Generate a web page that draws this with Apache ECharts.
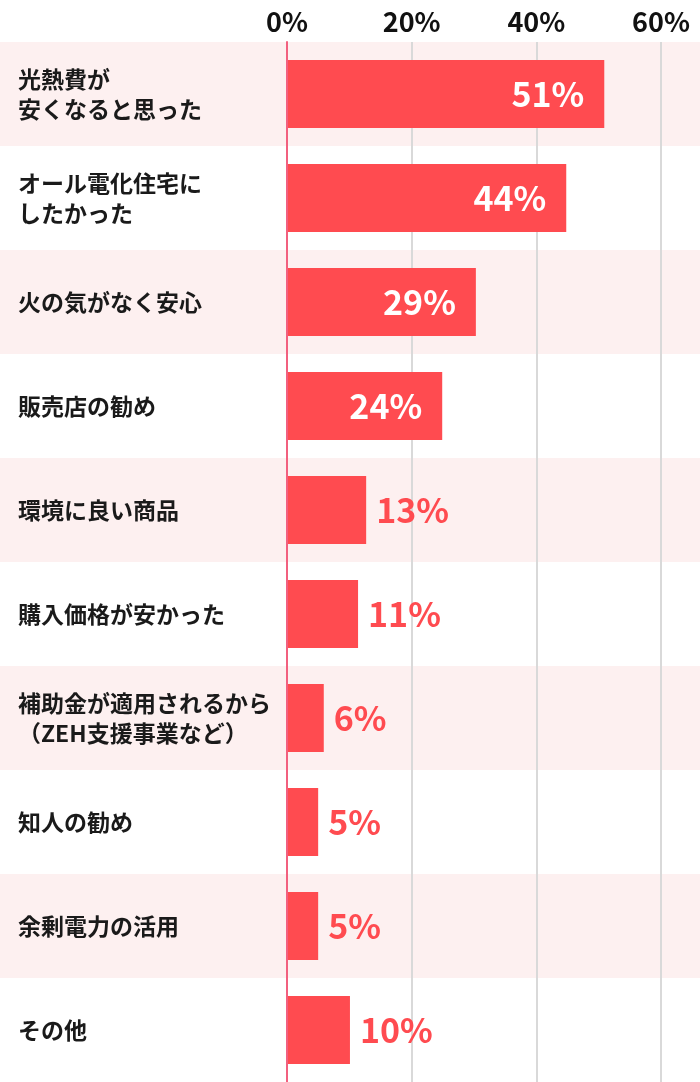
<!DOCTYPE html>
<html>
<head>
<meta charset="utf-8">
<script src="https://cdn.jsdelivr.net/npm/echarts@6/dist/echarts.min.js"></script>
<style>
html,body{margin:0;padding:0;background:#fff;}
#c{width:700px;height:1082px;}
</style>
</head>
<body>
<div id="c"></div>
<script>
const categories = [
  '光熱費が\n安くなると思った',
  'オール電化住宅に\nしたかった',
  '火の気がなく安心',
  '販売店の勧め',
  '環境に良い商品',
  '購入価格が安かった',
  '補助金が適用されるから\n（ZEH支援事業など）',
  '知人の勧め',
  '余剰電力の活用',
  'その他'
];
const values = [50.9, 44.8, 30.3, 24.9, 12.7, 11.4, 5.9, 5.0, 5.0, 10.1];
const valueLabels = ['51%', '44%', '29%', '24%', '13%', '11%', '6%', '5%', '5%', '10%'];
const tickValues = [0, 20, 40, 60];

const FONT = '"Noto Sans CJK JP", "Noto Sans", sans-serif';
const RED = '#ff4b50';

const chart = echarts.init(document.getElementById('c'), null, {renderer: 'canvas'});

const seriesData = values.map((v, i) => {
  const inside = v > 20;
  return {
    value: v,
    label: inside ? {
      position: 'insideRight', distance: 20, color: '#ffffff'
    } : {
      position: 'right', distance: 10, color: RED
    }
  };
});

chart.setOption({
  animation: false,
  backgroundColor: '#ffffff',
  grid: [
    {left: 287, right: 39, top: 42, bottom: 0},
    {left: 0, right: 0, top: 42, bottom: 0}
  ],
  xAxis: [
    {
      gridIndex: 0, type: 'value', position: 'top',
      min: tickValues[0], max: tickValues[tickValues.length - 1], interval: 20,
      z: 1,
      axisLine: {show: false}, axisTick: {show: false},
      splitLine: {show: true, lineStyle: {color: '#d9d9d9', width: 2}},
      axisLabel: {
        formatter: '{value}%', color: '#111', fontSize: 27, fontWeight: 'bold',
        fontFamily: FONT, margin: 7
      }
    },
    {
      gridIndex: 1, type: 'value', min: 0, max: 1, show: false
    }
  ],
  yAxis: [
    {
      gridIndex: 0, type: 'category', data: categories, inverse: true, z: 3,
      axisLine: {show: true, lineStyle: {color: '#f2607f', width: 2}},
      axisTick: {show: false}, axisLabel: {show: false},
      splitLine: {show: false}
    },
    {
      gridIndex: 1, type: 'category', data: categories, inverse: true, z: 0,
      axisLine: {show: false}, axisTick: {show: false},
      splitLine: {show: false},
      splitArea: {show: true, areaStyle: {color: ['#fdf0f0', '#ffffff']}},
      axisLabel: {
        inside: true, margin: 18, color: '#1a1a1a', fontSize: 23, fontWeight: 'bold',
        fontFamily: FONT, lineHeight: 30, align: 'left'
      }
    }
  ],
  series: [{
    type: 'bar',
    xAxisIndex: 0, yAxisIndex: 0,
    data: seriesData,
    barWidth: 68,
    z: 2,
    itemStyle: {color: RED},
    label: {
      show: true,
      fontSize: 34, fontWeight: 'bold', fontFamily: FONT,
      formatter: p => valueLabels[p.dataIndex]
    }
  }]
});
</script>
</body>
</html>
